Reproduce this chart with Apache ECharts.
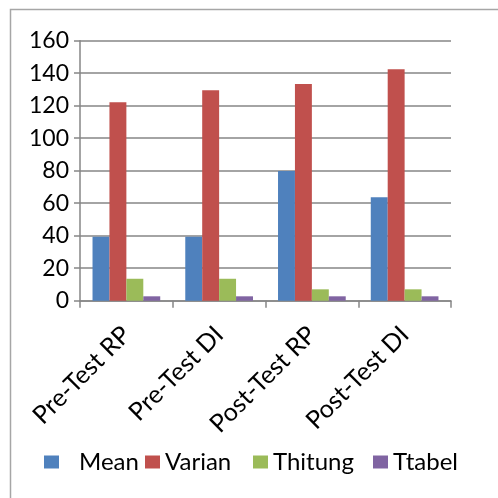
<!DOCTYPE html>
<html><head><meta charset="utf-8">
<script src="https://cdn.jsdelivr.net/npm/echarts@6/dist/echarts.min.js"></script>
<style>html,body{margin:0;padding:0;background:#fff}#c{width:498px;height:498px}</style>
</head><body><div id="c"></div>
<script>
const categories = ['Pre-Test RP', 'Pre-Test DI', 'Post-Test RP', 'Post-Test DI'];
const mean = [39.4, 39.4, 79.8, 63.6];
const varian = [122.1, 129.5, 133.3, 142.4];
const thitung = [13.5, 13.5, 7.0, 7.0];
const ttabel = [2.7, 2.7, 2.7, 2.7];
const seriesNames = ['Mean', 'Varian', 'Thitung', 'Ttabel'];
const colors = ['#4F81BD', '#C0504D', '#9BBB59', '#8064A2'];
const seriesData = [mean, varian, thitung, ttabel];

const FONT = 'Lato';
const chart = echarts.init(document.getElementById('c'));
const legendLefts = [44, 145, 253, 373];
chart.setOption({
  animation: false,
  color: colors,
  textStyle: { fontFamily: FONT, color: '#000' },
  graphic: [{
    type: 'rect', left: 8, top: 7, shape: { width: 520, height: 520 },
    style: { fill: 'none', stroke: '#a6a6a6', lineWidth: 1.5 }, silent: true
  }],
  legend: seriesNames.map((n, i) => ({
    data: [n], left: legendLefts[i], top: 450,
    itemWidth: 15, itemHeight: 13, icon: 'rect',
    itemGap: 0,
    textStyle: { fontFamily: FONT, fontSize: 24, color: '#000', padding: [0, 0, 0, i === 0 ? 15 : 0] },
    padding: 0
  })),
  grid: { left: 80, right: 47, top: 40.7, bottom: 197.3, containLabel: false },
  xAxis: {
    type: 'category', data: categories,
    axisLine: { lineStyle: { color: '#868686', width: 1.5 } },
    axisTick: { show: true, length: 7, alignWithLabel: false, lineStyle: { color: '#868686', width: 1.5 } },
    axisLabel: { rotate: 45, fontSize: 25, color: '#000', fontFamily: FONT, margin: 30, interval: 0 }
  },
  yAxis: {
    type: 'value', min: 0, max: 160, interval: 20,
    axisLine: { show: true, lineStyle: { color: '#868686', width: 1.5 } },
    axisTick: { show: true, length: 6, lineStyle: { color: '#868686', width: 1.5 } },
    axisLabel: { fontSize: 23, color: '#000', fontFamily: FONT, margin: 11 },
    splitLine: { lineStyle: { color: '#868686', width: 1.5 } }
  },
  series: seriesNames.map((n, i) => ({
    name: n, type: 'bar', data: seriesData[i],
    barGap: '0%', barCategoryGap: '27%',
    itemStyle: { color: colors[i] }
  }))
});
</script></body></html>
